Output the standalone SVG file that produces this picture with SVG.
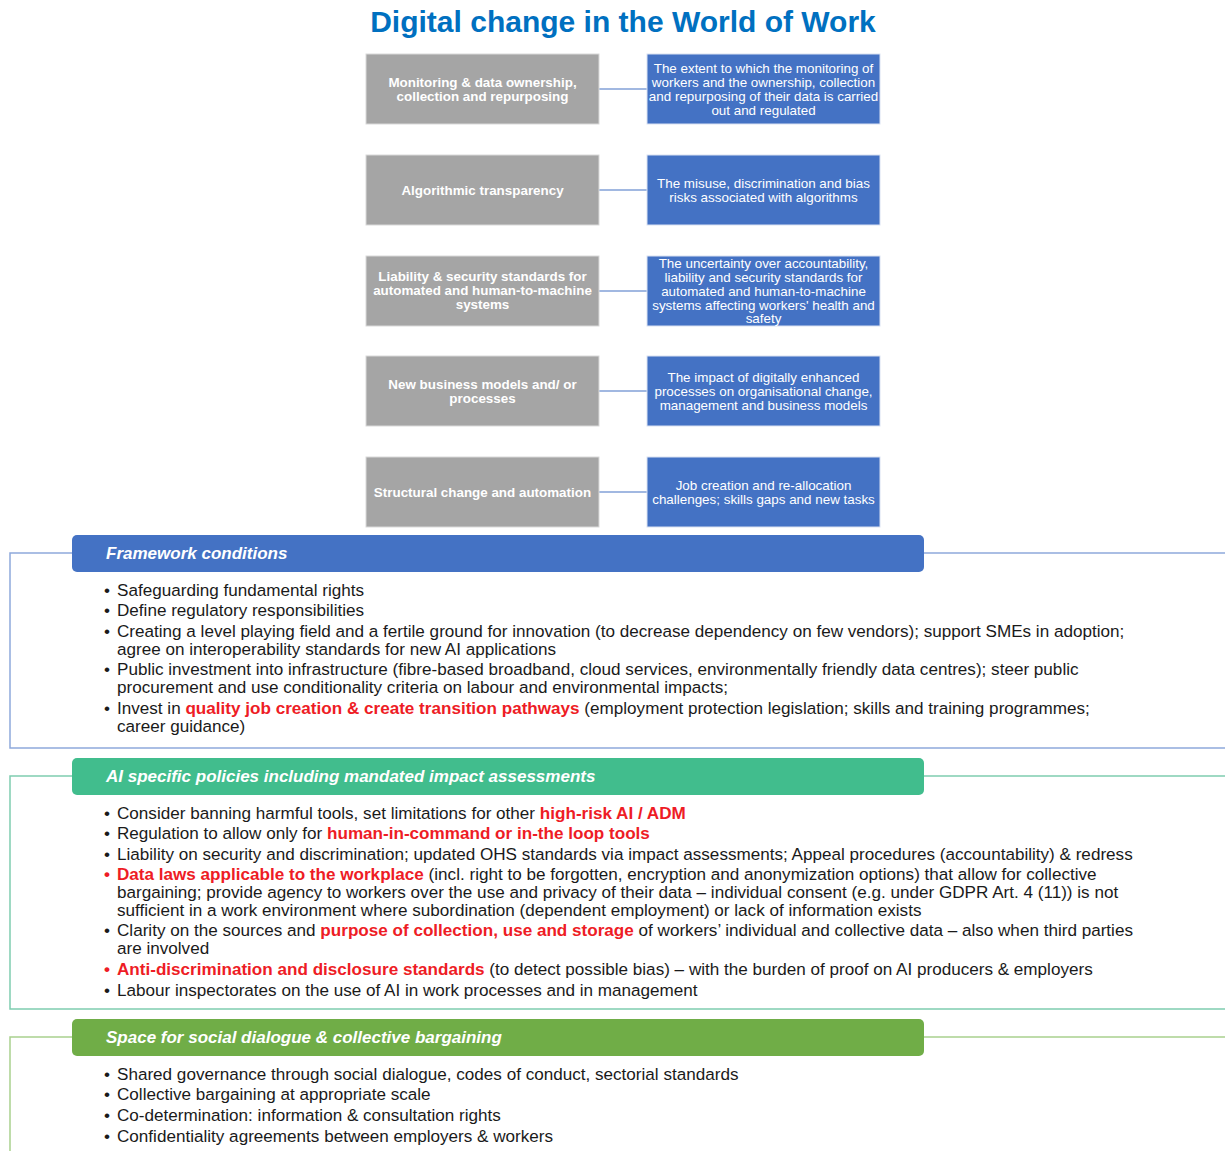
<svg xmlns="http://www.w3.org/2000/svg" width="1225" height="1151" viewBox="0 0 1225 1151">
<style>
text{font-family:"Liberation Sans",Arial,sans-serif}
.title{font-size:30px;font-weight:bold;fill:#0070C0}
.g{fill:#A5A5A5;stroke:#d9d9d9;stroke-width:1}
.b{fill:#4472C4;stroke:#d9e1f2;stroke-width:1}
.gt{font-size:13.4px;font-weight:bold;fill:#fff;text-anchor:middle}
.bt{font-size:13.4px;fill:#fff;text-anchor:middle}
.conn{stroke:#4472C4;stroke-width:1.2;fill:none}
.hdr{font-size:17px;font-weight:bold;font-style:italic;fill:#fff}
.li{font-size:17.1px;fill:#1a1a1a}
.r{fill:#EE1C25;font-weight:bold}
.fb{fill:none;stroke:#8EA9DB;stroke-width:1.5}
.fa{fill:none;stroke:#7FCDB0;stroke-width:1.5}
.fs{fill:none;stroke:#A9D18E;stroke-width:1.5}
</style>
<rect width="1225" height="1151" fill="#fff"/>
<text class="title" x="623" y="32" text-anchor="middle">Digital change in the World of Work</text>

<g id="connectors">
<line class="conn" x1="599" y1="89" x2="647" y2="89"/>
<line class="conn" x1="599" y1="190" x2="647" y2="190"/>
<line class="conn" x1="599" y1="291" x2="647" y2="291"/>
<line class="conn" x1="599" y1="391" x2="647" y2="391"/>
<line class="conn" x1="599" y1="492" x2="647" y2="492"/>
</g>

<g id="topic1">
<rect class="g" x="366" y="54" width="233" height="70"/>
<text class="gt" x="482.5" y="87">Monitoring &amp; data ownership,</text>
<text class="gt" x="482.5" y="101">collection and repurposing</text>
</g>
<g id="desc1">
<rect class="b" x="647" y="54" width="233" height="70"/>
<text class="bt" x="763.5" y="73">The extent to which the monitoring of</text>
<text class="bt" x="763.5" y="87">workers and the ownership, collection</text>
<text class="bt" x="763.5" y="101">and repurposing of their data is carried</text>
<text class="bt" x="763.5" y="115">out and regulated</text>
</g>

<g id="topic2">
<rect class="g" x="366" y="155" width="233" height="70"/>
<text class="gt" x="482.5" y="195">Algorithmic transparency</text>
</g>
<g id="desc2">
<rect class="b" x="647" y="155" width="233" height="70"/>
<text class="bt" x="763.5" y="188">The misuse, discrimination and bias</text>
<text class="bt" x="763.5" y="202">risks associated with algorithms</text>
</g>

<g id="topic3">
<rect class="g" x="366" y="256" width="233" height="70"/>
<text class="gt" x="482.5" y="281">Liability &amp; security standards for</text>
<text class="gt" x="482.5" y="295">automated and human-to-machine</text>
<text class="gt" x="482.5" y="309">systems</text>
</g>
<g id="desc3">
<rect class="b" x="647" y="256" width="233" height="70"/>
<text class="bt" x="763.5" y="268">The uncertainty over accountability,</text>
<text class="bt" x="763.5" y="282">liability and security standards for</text>
<text class="bt" x="763.5" y="296">automated and human-to-machine</text>
<text class="bt" x="763.5" y="310">systems affecting workers' health and</text>
<text class="bt" x="763.5" y="323">safety</text>
</g>

<g id="topic4">
<rect class="g" x="366" y="356" width="233" height="70"/>
<text class="gt" x="482.5" y="389">New business models and/ or</text>
<text class="gt" x="482.5" y="403">processes</text>
</g>
<g id="desc4">
<rect class="b" x="647" y="356" width="233" height="70"/>
<text class="bt" x="763.5" y="382">The impact of digitally enhanced</text>
<text class="bt" x="763.5" y="396">processes on organisational change,</text>
<text class="bt" x="763.5" y="410">management and business models</text>
</g>

<g id="topic5">
<rect class="g" x="366" y="457" width="233" height="70"/>
<text class="gt" x="482.5" y="497">Structural change and automation</text>
</g>
<g id="desc5">
<rect class="b" x="647" y="457" width="233" height="70"/>
<text class="bt" x="763.5" y="490">Job creation and re-allocation</text>
<text class="bt" x="763.5" y="504">challenges; skills gaps and new tasks</text>
</g>

<g id="framework">
<path class="fb" d="M72,553 H10 V748 H1225 M924,553 H1225"/>
<rect x="72" y="535" width="852" height="37" rx="5" fill="#4472C4"/>
<text class="hdr" x="106" y="559">Framework conditions</text>
<g class="li">
<text x="104" y="596">•</text><text x="117" y="596">Safeguarding fundamental rights</text>
<text x="104" y="616">•</text><text x="117" y="616">Define regulatory responsibilities</text>
<text x="104" y="637">•</text><text x="117" y="637">Creating a level playing field and a fertile ground for innovation (to decrease dependency on few vendors); support SMEs in adoption;</text>
<text x="117" y="655">agree on interoperability standards for new AI applications</text>
<text x="104" y="675">•</text><text x="117" y="675">Public investment into infrastructure (fibre-based broadband, cloud services, environmentally friendly data centres); steer public</text>
<text x="117" y="693">procurement and use conditionality criteria on labour and environmental impacts;</text>
<text x="104" y="714">•</text><text x="117" y="714">Invest in <tspan class="r">quality job creation &amp; create transition pathways</tspan> (employment protection legislation; skills and training programmes;</text>
<text x="117" y="732">career guidance)</text>
</g>
</g>

<g id="ai-policies">
<path class="fa" d="M72,776 H10 V1009 H1225 M924,776 H1225"/>
<rect x="72" y="758" width="852" height="37" rx="5" fill="#41BD8D"/>
<text class="hdr" x="106" y="782">AI specific policies including mandated impact assessments</text>
<g class="li">
<text x="104" y="819">•</text><text x="117" y="819">Consider banning harmful tools, set limitations for other <tspan class="r">high-risk AI / ADM</tspan></text>
<text x="104" y="839">•</text><text x="117" y="839">Regulation to allow only for <tspan class="r">human-in-command or in-the loop tools</tspan></text>
<text x="104" y="860">•</text><text x="117" y="860">Liability on security and discrimination; updated OHS standards via impact assessments; Appeal procedures (accountability) &amp; redress</text>
<text x="104" y="880" class="r">•</text><text x="117" y="880"><tspan class="r">Data laws applicable to the workplace</tspan> (incl. right to be forgotten, encryption and anonymization options) that allow for collective</text>
<text x="117" y="898">bargaining; provide agency to workers over the use and privacy of their data – individual consent (e.g. under GDPR Art. 4 (11)) is not</text>
<text x="117" y="916">sufficient in a work environment where subordination (dependent employment) or lack of information exists</text>
<text x="104" y="936">•</text><text x="117" y="936">Clarity on the sources and <tspan class="r">purpose of collection, use and storage</tspan> of workers’ individual and collective data – also when third parties</text>
<text x="117" y="954">are involved</text>
<text x="104" y="975" class="r">•</text><text x="117" y="975"><tspan class="r">Anti-discrimination and disclosure standards</tspan> (to detect possible bias) – with the burden of proof on AI producers &amp; employers</text>
<text x="104" y="996">•</text><text x="117" y="996">Labour inspectorates on the use of AI in work processes and in management</text>
</g>
</g>

<g id="social-dialogue">
<path class="fs" d="M72,1037 H10 V1151 M924,1037 H1225"/>
<rect x="72" y="1019" width="852" height="37" rx="5" fill="#70AD47"/>
<text class="hdr" x="106" y="1043">Space for social dialogue &amp; collective bargaining</text>
<g class="li">
<text x="104" y="1080">•</text><text x="117" y="1080">Shared governance through social dialogue, codes of conduct, sectorial standards</text>
<text x="104" y="1100">•</text><text x="117" y="1100">Collective bargaining at appropriate scale</text>
<text x="104" y="1121">•</text><text x="117" y="1121">Co-determination: information &amp; consultation rights</text>
<text x="104" y="1142">•</text><text x="117" y="1142">Confidentiality agreements between employers &amp; workers</text>
</g>
</g>
</svg>
